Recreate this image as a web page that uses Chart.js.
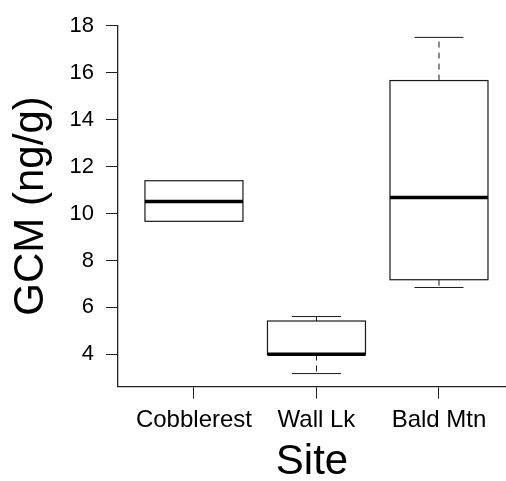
<!DOCTYPE html>
<html>
<head>
<meta charset="utf-8">
<script src="https://cdn.jsdelivr.net/npm/chart.js@4"></script>
<style>
  html, body { margin: 0; padding: 0; background: #fff; }
  #wrap { width: 506px; height: 481px; }
</style>
</head>
<body>
<div id="wrap"><canvas id="gcmBox"></canvas></div>
<script>
const sites = ['Cobblerest', 'Wall Lk', 'Bald Mtn'];
const lowWhisker = [9.67, 3.18, 6.85];
const q1 = [9.67, 3.99, 7.18];
const median = [10.51, 4.0, 10.68];
const q3 = [11.40, 5.42, 15.67];
const highWhisker = [11.40, 5.61, 17.51];
const yTicks = [4, 6, 8, 10, 12, 14, 16, 18];

const FONT = 'Liberation Sans, Arial, Helvetica, sans-serif';

// draws each box, median and whiskers through the chart's scales
const boxPlot = {
  id: 'boxPlot',
  afterDatasetsDraw(chart) {
    const { ctx, scales: { x, y } } = chart;
    ctx.save();
    ctx.strokeStyle = '#1a1a1a';
    sites.forEach((s, i) => {
      const xc = x.getPixelForValue(i + 1);
      const xl = x.getPixelForValue(i + 1 - 0.4);
      const xr = x.getPixelForValue(i + 1 + 0.4);
      const cl = x.getPixelForValue(i + 1 - 0.2);
      const cr = x.getPixelForValue(i + 1 + 0.2);
      const yq1 = y.getPixelForValue(q1[i]);
      const yq3 = y.getPixelForValue(q3[i]);
      const ymed = y.getPixelForValue(median[i]);
      const ylo = y.getPixelForValue(lowWhisker[i]);
      const yhi = y.getPixelForValue(highWhisker[i]);

      // whiskers
      ctx.lineWidth = 1;
      ctx.setLineDash([6, 5]);
      ctx.beginPath();
      ctx.moveTo(xc, yq3); ctx.lineTo(xc, yhi);
      ctx.moveTo(xc, yq1); ctx.lineTo(xc, ylo);
      ctx.stroke();
      ctx.setLineDash([]);
      ctx.beginPath();
      if (highWhisker[i] > q3[i]) { ctx.moveTo(cl, yhi); ctx.lineTo(cr, yhi); }
      if (lowWhisker[i] < q1[i]) { ctx.moveTo(cl, ylo); ctx.lineTo(cr, ylo); }
      ctx.stroke();

      // box
      ctx.fillStyle = '#fff';
      ctx.fillRect(xl, yq3, xr - xl, yq1 - yq3);
      ctx.lineWidth = 1.2;
      ctx.strokeRect(xl, yq3, xr - xl, yq1 - yq3);

      // median
      ctx.lineWidth = 3.5;
      ctx.strokeStyle = '#000';
      ctx.beginPath();
      ctx.moveTo(xl, ymed); ctx.lineTo(xr, ymed);
      ctx.stroke();
      ctx.strokeStyle = '#1a1a1a';
    });
    ctx.restore();
  }
};

new Chart(document.getElementById('gcmBox'), {
  type: 'scatter',
  data: {
    datasets: [{
      data: median.map((m, i) => ({ x: i + 1, y: m })),
      pointRadius: 0,
      pointHoverRadius: 0
    }]
  },
  options: {
    responsive: true,
    maintainAspectRatio: false,
    animation: false,
    events: [],
    layout: { padding: 0 },
    plugins: { legend: { display: false }, tooltip: { enabled: false } },
    scales: {
      x: {
        type: 'linear',
        min: 0.38,
        max: 3.547,
        afterBuildTicks: (scale) => { scale.ticks = sites.map((s, i) => ({ value: i + 1 })); },
        afterFit: (scale) => { scale.height = 94.3; },
        grid: { drawOnChartArea: false, tickLength: 12, tickColor: '#222', tickWidth: 1 },
        border: { display: true, color: '#222', width: 1.3 },
        ticks: {
          color: '#000',
          padding: 7,
          maxRotation: 0,
          font: { family: FONT, size: 24 },
          callback: (v) => sites[v - 1]
        },
        title: {
          display: true,
          text: 'Site',
          color: '#000',
          font: { family: FONT, size: 42, lineHeight: 0.9 },
          padding: { top: 0, bottom: 0 }
        }
      },
      y: {
        min: 2.62,
        max: 18.03,
        afterBuildTicks: (scale) => { scale.ticks = yTicks.map(v => ({ value: v })); },
        afterFit: (scale) => { scale.width = 118; },
        grid: { drawOnChartArea: false, tickLength: 12, tickColor: '#222', tickWidth: 1 },
        border: { display: true, color: '#222', width: 1.3 },
        ticks: {
          color: '#000',
          padding: 12,
          font: { family: FONT, size: 22 }
        },
        title: {
          display: true,
          text: 'GCM (ng/g)',
          color: '#000',
          font: { family: FONT, size: 42, lineHeight: 1.1 },
          padding: { top: 8, bottom: 0 }
        }
      }
    }
  },
  plugins: [boxPlot]
});
</script>
</body>
</html>
